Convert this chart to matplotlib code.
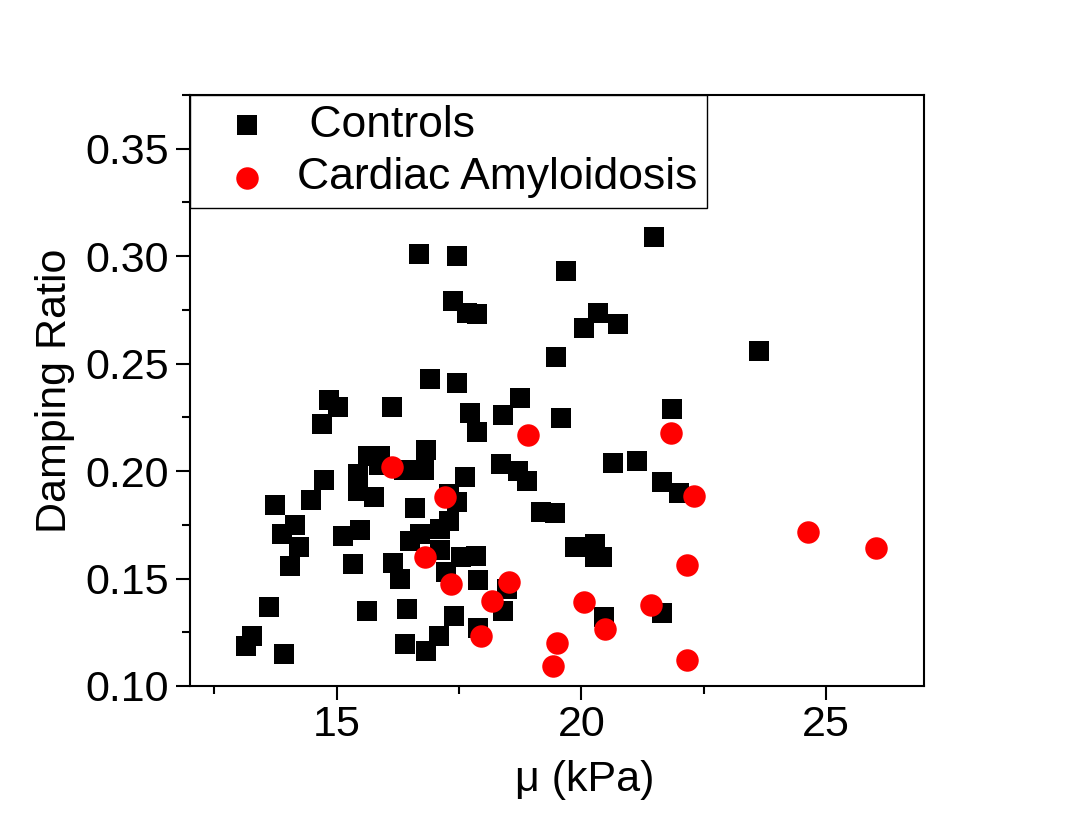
import matplotlib
matplotlib.use('Agg')
import matplotlib.pyplot as plt
from matplotlib.ticker import MultipleLocator, FormatStrFormatter

plt.rcParams['font.family'] = ['Liberation Sans', 'DejaVu Sans']

# shear modulus (kPa) and damping ratio
controls_mu = [21.49, 16.68, 17.47, 19.68, 17.37, 17.66, 17.86, 20.35, 20.06, 20.76,
               23.63, 19.49, 16.90, 17.47, 14.84, 15.03, 16.13, 18.74, 21.85, 17.72,
               18.40, 19.59, 14.71, 17.86, 16.82, 15.65, 15.88, 15.86, 16.37, 16.78,
               17.62, 14.74, 15.44, 15.44, 15.76, 14.47, 13.74, 16.61, 17.30, 17.47,
               14.15, 13.88, 14.23, 15.13, 15.48, 17.30, 17.12, 16.71, 16.51, 14.05,
               15.33, 16.15, 16.30, 17.12, 17.54, 17.85, 17.23, 13.62, 15.63, 16.43,
               17.39, 13.28, 13.16, 13.93, 16.40, 16.82, 17.10, 18.36, 18.70, 18.90,
               20.64, 21.14, 21.64, 22.00, 19.18, 19.46, 19.87, 20.28, 20.28, 20.43,
               17.89, 18.48, 18.40, 17.89, 20.47, 21.64]
controls_ratio = [0.3087, 0.301, 0.300, 0.293, 0.279, 0.2734, 0.2729, 0.2734, 0.2664, 0.2683,
                  0.2558, 0.2531, 0.2426, 0.241, 0.233, 0.230, 0.230, 0.234, 0.229, 0.227,
                  0.2259, 0.2248, 0.2217, 0.218, 0.2096, 0.2068, 0.2068, 0.2026, 0.2006, 0.2006,
                  0.1974, 0.1959, 0.1984, 0.1906, 0.1881, 0.1867, 0.1844, 0.1828, 0.1893, 0.1854,
                  0.175, 0.1707, 0.1648, 0.1699, 0.1727, 0.1769, 0.173, 0.1707, 0.1676, 0.1559,
                  0.1567, 0.157, 0.1497, 0.1632, 0.1598, 0.1606, 0.1528, 0.1367, 0.1349, 0.136,
                  0.1325, 0.1232, 0.1185, 0.1147, 0.1196, 0.1165, 0.1232, 0.2034, 0.2002, 0.1955,
                  0.2036, 0.2046, 0.1951, 0.1896, 0.1808, 0.1803, 0.1648, 0.166, 0.160, 0.160,
                  0.1492, 0.145, 0.1349, 0.1271, 0.1321, 0.1341]

ca_mu = [18.91, 21.83, 16.14, 17.21, 22.31, 16.80, 22.17, 17.33, 18.52, 18.17,
         20.06, 21.42, 17.95, 20.49, 19.51, 19.43, 22.17, 24.64, 26.02]
ca_ratio = [0.2169, 0.2178, 0.2018, 0.1878, 0.1882, 0.1598, 0.1562, 0.1476, 0.1486, 0.1395,
            0.139, 0.1375, 0.1232, 0.1263, 0.1201, 0.1095, 0.1123, 0.1716, 0.1644]

fig = plt.figure(figsize=(10.78, 8.25), dpi=100)
ax = fig.add_axes([0.176, 0.1685, 0.681, 0.7165])

ax.scatter(controls_mu, controls_ratio, marker='s', s=207, color='black',
           linewidths=0, label=' Controls', zorder=2)
ax.scatter(ca_mu, ca_ratio, marker='o', s=262, color='red',
           linewidths=0, label='Cardiac Amyloidosis', zorder=3)

ax.set_xlim(12, 27)
ax.set_ylim(0.10, 0.375)
ax.xaxis.set_major_locator(MultipleLocator(5))
ax.xaxis.set_minor_locator(MultipleLocator(2.5))
ax.yaxis.set_major_locator(MultipleLocator(0.05))
ax.yaxis.set_minor_locator(MultipleLocator(0.025))
ax.yaxis.set_major_formatter(FormatStrFormatter('%.2f'))

ax.tick_params(which='both', direction='out', top=False, right=False, labelsize=31, width=1.5)
ax.tick_params(which='major', length=10)
ax.tick_params(which='minor', length=6)
ax.tick_params(axis='x', which='major', pad=4)
ax.tick_params(axis='y', which='major', pad=5)
for sp in ax.spines.values():
    sp.set_linewidth(1.5)

ax.set_xlabel('\u03bc (kPa)', fontsize=31)
ax.set_ylabel('Damping Ratio', fontsize=31)
ax.xaxis.set_label_coords(0.538, -0.125)
ax.yaxis.set_label_coords(-0.156, 0.5)

leg = ax.legend(loc='upper left', bbox_to_anchor=(0, 1), borderaxespad=0,
                fontsize=32, scatterpoints=1, fancybox=False, framealpha=1,
                edgecolor='black', borderpad=0.22, handlelength=2.15,
                handletextpad=0.05, labelspacing=0.26)
leg.get_frame().set_linewidth(1.0)

fig.savefig('out.png', dpi=100)
